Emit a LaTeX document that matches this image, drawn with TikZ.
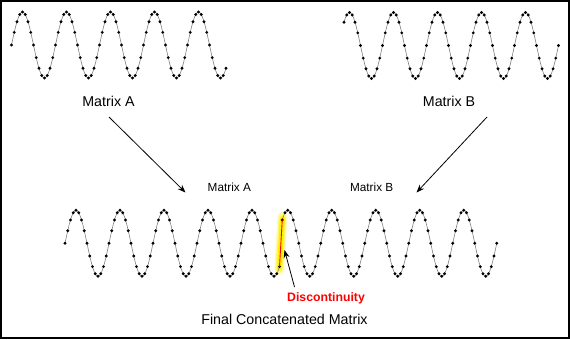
\documentclass[tikz,border=0pt]{standalone}
\usepackage{fontspec}
\setmainfont{Liberation Sans}
\usetikzlibrary{arrows.meta,calc}
\tikzset{
  x=1bp, y=-1bp,
  wave/.style={draw=black!50, line width=0.6bp},
  dot/.style={fill=black},
  conn/.style={draw=black, line width=0.8bp, -{Stealth[length=8bp,width=6bp]}},
  glow/.style={yellow, line cap=round},
  biglabel/.style={anchor=base, inner sep=0pt, font=\fontsize{14.3}{16}\selectfont},
  smalllabel/.style={anchor=base, inner sep=0pt, font=\fontsize{11.8}{14}\selectfont},
  redlabel/.style={anchor=base, inner sep=0pt, text=red, font=\fontsize{12.3}{14}\selectfont\bfseries},
}
\newcommand{\sinewave}[4]{% x0, ymid, kstart, kend
  \draw[wave] plot[domain=#3:#4, samples=300] ({#1+(\x-#3)*2.75}, {#2-33*sin(\x*22.5)});
  \foreach \k in {#3,...,#4}{
    \fill[dot] ({#1+(\k-#3)*2.75}, {#2-33*sin(\k*22.5)}) circle[radius=1.6bp];
  }
}
\begin{document}
\begin{tikzpicture}
\useasboundingbox (0,0) rectangle (570,339);
\fill[white] (0,0) rectangle (570,339);
\draw[line width=2bp] (1,1) rectangle (569,338);

% top waves
\sinewave{11.5}{45}{0}{78}
\sinewave{344}{45.5}{2}{80}

% highlight of the discontinuity
\coordinate (aend) at ({65+78*2.75}, {243.3-33*sin(78*22.5)});
\coordinate (bstart) at (282.25, {243.3-33*sin(2*22.5)});
\draw[glow, opacity=0.25, line width=10bp] ($(aend)!-0.07!(bstart)$) -- ($(bstart)!-0.07!(aend)$);
\draw[glow, opacity=0.4, line width=7.5bp] ($(aend)!-0.05!(bstart)$) -- ($(bstart)!-0.05!(aend)$);
\draw[glow, line width=5bp] ($(aend)!-0.03!(bstart)$) -- ($(bstart)!-0.03!(aend)$);

% final concatenated wave
\sinewave{65}{243.3}{0}{78}
\sinewave{282.25}{243.3}{2}{80}
\draw[red, line width=0.9bp] (aend) -- (bstart);

% labels
\node[biglabel] (la) at (108.5,106) {Matrix A};
\node[biglabel] (lb) at (449,106) {Matrix B};
\node[smalllabel] (sa) at (229.3,191.6) {Matrix A};
\node[smalllabel] (sb) at (371.7,191.6) {Matrix B};
\node[redlabel] (disc) at (326,301.7) {Discontinuity};
\node[biglabel] (final) at (284.5,324) {Final Concatenated Matrix};

% connectors
\coordinate (atail) at (109,117);
\coordinate (ahead) at (185.5,192.5);
\coordinate (btail) at (487,117);
\coordinate (bhead) at (416.5,192.5);
\coordinate (dtail) at (294.5,287);
\coordinate (dhead) at (284.5,250);
\draw[conn] (atail) -- (ahead);
\draw[conn] (btail) -- (bhead);
\draw[conn] (dtail) -- (dhead);
\end{tikzpicture}
\end{document}
